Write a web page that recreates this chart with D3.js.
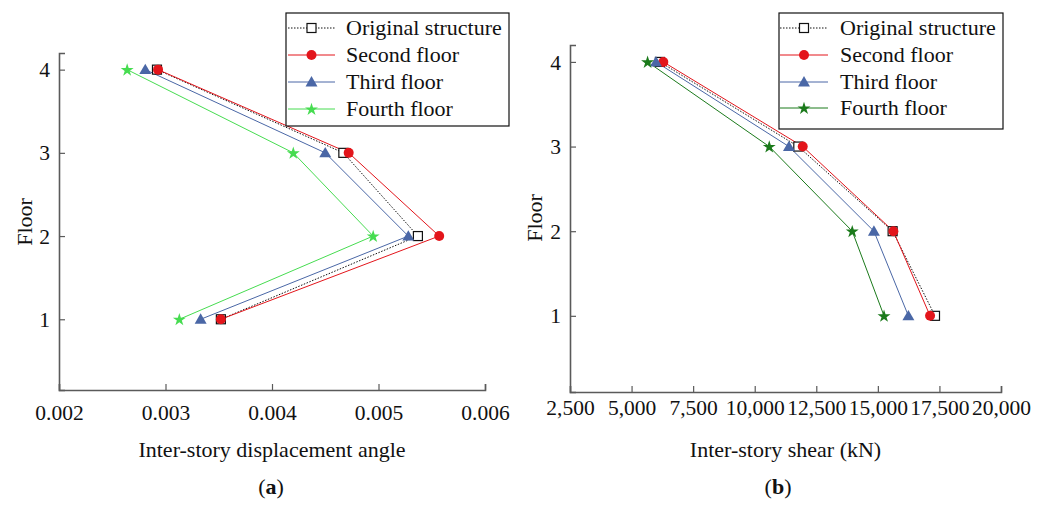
<!DOCTYPE html>
<html>
<head>
<meta charset="utf-8">
<script src="https://cdn.jsdelivr.net/npm/d3@7"></script>
<style>
  html, body { margin: 0; padding: 0; background: #fff; }
</style>
</head>
<body>
<svg id="chart" width="1046" height="505"></svg>
<script>
// Floors (1 = ground storey)
const floors = [1, 2, 3, 4];

// Panel (a): inter-story displacement angle per floor
const angleOriginal = [0.00352, 0.00537, 0.00467, 0.00292];
const angleSecond   = [0.00352, 0.00557, 0.00472, 0.00293];
const angleThird    = [0.00333, 0.00528, 0.00450, 0.00281];
const angleFourth   = [0.00313, 0.00495, 0.00420, 0.00264];
const angleTicks    = [0.002, 0.003, 0.004, 0.005, 0.006];

// Panel (b): inter-story shear (kN) per floor
const shearOriginal = [17320, 15600, 11770, 6150];
const shearSecond   = [17120, 15630, 11950, 6290];
const shearThird    = [16240, 14840, 11390, 5990];
const shearFourth   = [15250, 13960, 10590, 5650];
const shearTicks    = [2500, 5000, 7500, 10000, 12500, 15000, 17500, 20000];

const seriesNames = ["Original structure", "Second floor", "Third floor", "Fourth floor"];

const SERIF = "'Liberation Serif', 'Times New Roman', Tinos, 'DejaVu Serif', serif";
const svg = d3.select("#chart");
svg.append("rect").attr("width", 1046).attr("height", 505).attr("fill", "#fff");

const FONT = 22;
const TICK_FONT = 21.5;

function txt(sel) {
  return sel.style("font-family", SERIF).attr("font-family", SERIF).attr("fill", "#111");
}

function drawMarker(g, type, x, y, color) {
  if (type === "square") {
    g.append("rect").attr("x", x - 4.5).attr("y", y - 4.5).attr("width", 9).attr("height", 9)
      .attr("fill", "#fff").attr("stroke", "#111").attr("stroke-width", 1.2);
  } else if (type === "circle") {
    g.append("circle").attr("cx", x).attr("cy", y).attr("r", 5).attr("fill", color);
  } else if (type === "triangle") {
    g.append("path").attr("d", d3.symbol().type(d3.symbolTriangle).size(62)())
      .attr("transform", `translate(${x},${y + 1})`).attr("fill", color);
  } else if (type === "star") {
    g.append("path").attr("d", d3.symbol().type(d3.symbolStar).size(52)())
      .attr("transform", `translate(${x},${y + 0.5})`).attr("fill", color);
  }
}

function panel(cfg) {
  const g = svg.append("g");
  const x = d3.scaleLinear().domain(cfg.xDomain).range(cfg.xRange);
  const y = d3.scaleLinear().domain(cfg.yDomain).range(cfg.yRange);
  const axisColor = "#5a5a5a";

  // X axis with inward ticks
  const xAxis = g.append("g").attr("transform", `translate(0,${cfg.yRange[0]})`)
    .call(d3.axisBottom(x).tickValues(cfg.xTicks).tickSize(-6).tickPadding(0).tickFormat(cfg.xFormat));
  xAxis.attr("font-family", SERIF);
  xAxis.select(".domain").attr("stroke", axisColor).attr("stroke-width", 1.6);
  xAxis.selectAll(".tick line").attr("stroke", axisColor).attr("stroke-width", 1.2);
  txt(xAxis.selectAll(".tick text")).attr("font-size", TICK_FONT).attr("y", 0).attr("dy", cfg.xLabelDy);

  // Y axis with inward ticks
  const yAxis = g.append("g").attr("transform", `translate(${cfg.xRange[0]},0)`)
    .call(d3.axisLeft(y).tickValues(floors).tickSize(-6).tickPadding(0).tickFormat(d3.format("d")));
  yAxis.attr("font-family", SERIF);
  yAxis.select(".domain").attr("stroke", axisColor).attr("stroke-width", 1.6);
  yAxis.selectAll(".tick line").attr("stroke", axisColor).attr("stroke-width", 1.2);
  txt(yAxis.selectAll(".tick text")).attr("font-size", TICK_FONT).attr("x", -9).attr("dy", "0.33em");

  // Series lines, then markers
  const line = d3.line().x(d => x(d[0])).y(d => y(d[1]));
  cfg.series.forEach(s => {
    const pts = s.values.map((v, i) => [v, floors[i]]);
    g.append("path").attr("d", line(pts)).attr("fill", "none")
      .attr("stroke", s.color).attr("stroke-width", s.width)
      .attr("stroke-dasharray", s.dash || null);
  });
  cfg.series.forEach(s => {
    s.values.forEach((v, i) => drawMarker(g, s.marker, x(v), y(floors[i]), s.color));
  });

  // Axis titles
  txt(g.append("text")).attr("x", (cfg.xRange[0] + cfg.xRange[1]) / 2).attr("y", cfg.titleY)
    .attr("text-anchor", "middle").attr("font-size", FONT).text(cfg.xTitle);
  txt(g.append("text")).attr("transform", `translate(${cfg.yTitleX},${cfg.yTitleY}) rotate(-90)`)
    .attr("text-anchor", "middle").attr("font-size", FONT).text("Floor");

  // Panel tag
  const tag = txt(g.append("text")).attr("x", cfg.tagX).attr("y", 494).attr("text-anchor", "middle")
    .attr("font-size", FONT);
  tag.append("tspan").text("(");
  tag.append("tspan").attr("font-weight", "bold").text(cfg.tag);
  tag.append("tspan").text(")");

  // Legend
  const L = cfg.legend;
  const lg = g.append("g");
  lg.append("rect").attr("x", L.x).attr("y", L.y).attr("width", L.w).attr("height", L.h)
    .attr("fill", "#fff").attr("stroke", "#111").attr("stroke-width", 1.2);
  cfg.series.forEach((s, i) => {
    const ry = L.rows[i];
    lg.append("line").attr("x1", L.lineX0).attr("x2", L.lineX1).attr("y1", ry).attr("y2", ry)
      .attr("stroke", s.color).attr("stroke-width", s.width).attr("stroke-dasharray", s.dash || null);
    drawMarker(lg, s.marker, (L.lineX0 + L.lineX1) / 2, ry, s.color);
    txt(lg.append("text")).attr("x", L.textX).attr("y", ry).attr("dy", "0.34em")
      .attr("font-size", FONT).text(seriesNames[i]);
  });
}

panel({
  xDomain: [0.002, 0.006], xRange: [59, 485],
  yDomain: [0.15, 4.2], yRange: [390, 53],
  xTicks: angleTicks, xFormat: d3.format(".3f"), xLabelDy: 30,
  xTitle: "Inter-story displacement angle", titleY: 457,
  yTitleX: 32, yTitleY: 222,
  tag: "a", tagX: 271,
  series: [
    { values: angleOriginal, color: "#111", width: 1, dash: "1.5,1.5", marker: "square" },
    { values: angleSecond, color: "#e3151b", width: 1, marker: "circle" },
    { values: angleThird, color: "#4a67a6", width: 1, marker: "triangle" },
    { values: angleFourth, color: "#46dc50", width: 1, marker: "star" }
  ],
  legend: { x: 286, y: 13, w: 223, h: 113, rows: [28, 55, 82, 109], lineX0: 288, lineX1: 335, textX: 346 }
});

panel({
  xDomain: [2500, 20000], xRange: [570, 1001],
  yDomain: [0.1, 4.2], yRange: [392, 45],
  xTicks: shearTicks, xFormat: d3.format(","), xLabelDy: 23,
  xTitle: "Inter-story shear (kN)", titleY: 457,
  yTitleX: 542, yTitleY: 218,
  tag: "b", tagX: 778,
  series: [
    { values: shearOriginal, color: "#111", width: 1, dash: "1.5,1.5", marker: "square" },
    { values: shearSecond, color: "#e3151b", width: 1, marker: "circle" },
    { values: shearThird, color: "#4a67a6", width: 1, marker: "triangle" },
    { values: shearFourth, color: "#1b7a1b", width: 1, marker: "star" }
  ],
  legend: { x: 779, y: 13, w: 224, h: 116, rows: [28, 55, 82, 108], lineX0: 780, lineX1: 828, textX: 840 }
});
</script>
</body>
</html>
